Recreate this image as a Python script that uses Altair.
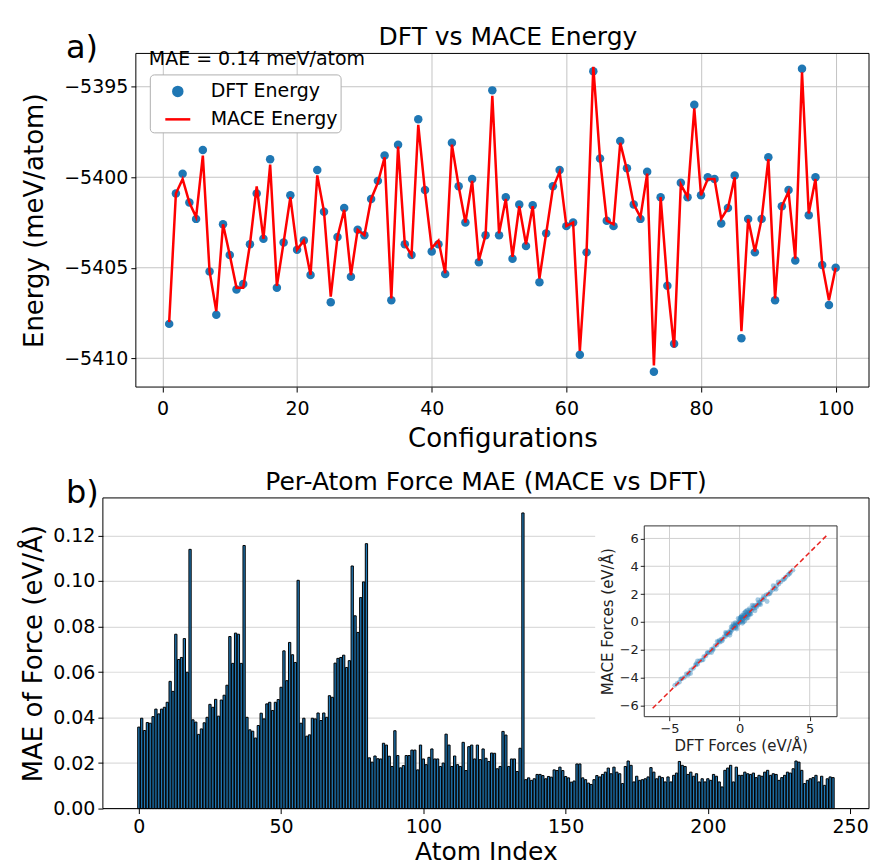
import altair as alt
import pandas as pd

FONT = "DejaVu Sans"

# ---------------- data: panel a ----------------
configurations = list(range(1, 101))
dft_energy = [
    -5408.1, -5400.9, -5399.8, -5401.4, -5402.3, -5398.5, -5405.2, -5407.6, -5402.6, -5404.3,
    -5406.2, -5405.9, -5403.7, -5400.9, -5403.4, -5399.0, -5406.1, -5403.6, -5401.0, -5404.0,
    -5403.5, -5405.4, -5399.6, -5401.9, -5406.9, -5403.3, -5401.7, -5405.5, -5402.9, -5403.2,
    -5401.2, -5400.2, -5398.8, -5406.8, -5398.2, -5403.7, -5404.3, -5396.8, -5400.7, -5404.1,
    -5403.7, -5405.35, -5398.1, -5400.5, -5402.5, -5400.1, -5404.7, -5403.2, -5395.2, -5403.2,
    -5401.1, -5404.5, -5401.5, -5403.8, -5401.55, -5405.8, -5403.1, -5400.5, -5399.6, -5402.7,
    -5402.5, -5409.8, -5404.15, -5394.15, -5398.96, -5402.4, -5402.7, -5398.0, -5399.5, -5401.5,
    -5402.3, -5399.7, -5410.75, -5401.1, -5406.0, -5409.2, -5400.3, -5401.1, -5396.0, -5401.0,
    -5400.0, -5400.1, -5402.55, -5401.7, -5399.9, -5408.9, -5402.3, -5404.15, -5402.3, -5398.9,
    -5406.8, -5401.6, -5400.7, -5404.6, -5394.0, -5402.1, -5400.0, -5404.85, -5407.06, -5405.0,
]
mace_energy = [
    -5408.0, -5400.9, -5400.1, -5401.4, -5402.2, -5398.8, -5405.2, -5407.4, -5402.6, -5404.3,
    -5406.1, -5406.1, -5403.7, -5400.5, -5403.4, -5399.3, -5406.0, -5403.6, -5401.1, -5404.0,
    -5403.5, -5405.4, -5399.9, -5401.9, -5406.6, -5403.3, -5401.8, -5405.4, -5402.9, -5403.2,
    -5401.2, -5400.3, -5398.9, -5406.7, -5398.3, -5403.7, -5404.3, -5397.1, -5400.8, -5403.9,
    -5403.5, -5405.3, -5398.2, -5400.5, -5402.5, -5400.2, -5404.6, -5403.2, -5395.5, -5403.1,
    -5401.2, -5404.4, -5401.6, -5403.7, -5401.6, -5405.6, -5403.1, -5400.6, -5399.7, -5402.7,
    -5402.5, -5409.6, -5404.1, -5393.9, -5399.0, -5402.4, -5402.6, -5398.1, -5399.6, -5401.5,
    -5402.2, -5399.8, -5410.4, -5401.1, -5405.9, -5409.4, -5400.4, -5401.1, -5396.2, -5401.0,
    -5400.1, -5400.1, -5402.3, -5401.7, -5400.0, -5408.5, -5402.3, -5404.1, -5402.3, -5399.0,
    -5406.7, -5401.6, -5400.8, -5404.5, -5394.2, -5402.0, -5400.1, -5404.8, -5406.8, -5405.0,
]
series_labels = ["DFT Energy", "MACE Energy"]
energy_ticks = [-5410, -5405, -5400, -5395]
config_ticks = [0, 20, 40, 60, 80, 100]
mae_label = ["MAE = 0.14 meV/atom"]
panel_labels = ["a)", "b)"]

# ---------------- data: panel b ----------------
force_mae_a = [
    0.0358, 0.0397, 0.0343, 0.0378, 0.0375, 0.0404, 0.0437, 0.0416, 0.0437, 0.0445,
    0.0467, 0.0559, 0.0515, 0.0766, 0.0655, 0.0664, 0.0747, 0.0599, 0.1139, 0.0390,
    0.0380, 0.0326, 0.0350, 0.0377, 0.0401, 0.0458, 0.0445, 0.0480, 0.0406, 0.0477,
    0.0498, 0.0542, 0.0756, 0.0638, 0.0771, 0.0766, 0.0638, 0.1156, 0.0401, 0.0346,
    0.0340, 0.0310, 0.0365,
]
force_mae_b = [
    0.0419, 0.0394, 0.0460, 0.0467, 0.0431, 0.0467, 0.0479, 0.0533, 0.0693, 0.0562,
    0.0730, 0.0676, 0.0642, 0.1003, 0.0375, 0.0397, 0.0318, 0.0324, 0.0397, 0.0394,
    0.0420, 0.0387, 0.0420, 0.0401, 0.0496, 0.0489, 0.0639, 0.0660, 0.0664, 0.0674,
    0.0620, 0.0650, 0.1066, 0.0847, 0.0774, 0.0927, 0.0996, 0.1164, 0.0223, 0.0204,
    0.0231, 0.0219,
]
force_mae_c = [
    0.0218, 0.0287, 0.0279, 0.0230, 0.0185, 0.0342, 0.0233, 0.0179, 0.0189, 0.0233,
    0.0233, 0.0257, 0.0257, 0.0170, 0.0279, 0.0218, 0.0193, 0.0225, 0.0262, 0.0218,
    0.0218, 0.0185, 0.0200, 0.0327, 0.0279, 0.0185, 0.0231, 0.0193, 0.0185, 0.0291,
    0.0167, 0.0272, 0.0279, 0.0218, 0.0279, 0.0215, 0.0262, 0.0221, 0.0207, 0.0244,
    0.0243, 0.0175, 0.0185, 0.0339, 0.0323, 0.0185, 0.0218, 0.0218, 0.0163, 0.0265,
    0.1299, 0.0127, 0.0135, 0.0124, 0.0131, 0.0150, 0.0150, 0.0145, 0.0131, 0.0141,
    0.0138, 0.0170, 0.0167, 0.0182, 0.0167, 0.0141, 0.0135, 0.0116, 0.0121, 0.0196,
    0.0196, 0.0135, 0.0127, 0.0112, 0.0106, 0.0127, 0.0145, 0.0139, 0.0150,
]
force_mae_d = [
    0.0160, 0.0178, 0.0153, 0.0182, 0.0160, 0.0153, 0.0110, 0.0185, 0.0209, 0.0190,
    0.0117, 0.0142, 0.0124, 0.0127, 0.0131, 0.0139, 0.0180, 0.0160, 0.0131, 0.0142,
    0.0136, 0.0117, 0.0139, 0.0117, 0.0146, 0.0156, 0.0207, 0.0190, 0.0185, 0.0150,
    0.0160, 0.0142, 0.0153, 0.0117, 0.0131, 0.0117, 0.0131, 0.0124, 0.0150, 0.0142,
    0.0117, 0.0095, 0.0168, 0.0178, 0.0190, 0.0117, 0.0182, 0.0146, 0.0146, 0.0160,
    0.0153, 0.0150, 0.0156, 0.0136, 0.0146, 0.0142, 0.0160, 0.0168, 0.0146, 0.0153,
    0.0150, 0.0124, 0.0136, 0.0146, 0.0160, 0.0156, 0.0175, 0.0209, 0.0204, 0.0168,
    0.0110, 0.0124, 0.0131, 0.0136, 0.0146, 0.0117, 0.0142, 0.0102, 0.0131, 0.0139,
    0.0136,
]
force_mae = force_mae_a + force_mae_b + force_mae_c + force_mae_d
atom_index = list(range(len(force_mae)))
mae_ticks = [0.0, 0.02, 0.04, 0.06, 0.08, 0.10, 0.12]
atom_ticks = [0, 50, 100, 150, 200, 250]

# inset: DFT vs MACE forces
inset_dft = [
    -4.62, -4.45, -4.3, -4.12, -3.95, -3.8, -3.62, -3.48, -3.3, -3.15,
    -3.0, -2.85, -2.7, -2.55, -2.4, -2.28, -2.15, -2.0, -1.88, -1.75,
    -1.62, -1.5, -1.4, -1.3, -1.2, -1.1, -1.0, -0.92, -0.85, -0.78,
    -0.7, -0.62, -0.55, -0.48, -0.4, -0.33, -0.26, -0.2, -0.14, -0.08,
    -0.02, 0.04, 0.1, 0.16, 0.22, 0.28, 0.34, 0.4, 0.46, 0.52,
    0.58, 0.64, 0.7, 0.78, 0.86, 0.95, 1.05, 1.15, 1.25, 1.35,
    1.45, 1.55, 1.66, 1.78, 1.9, 1.96, 2.05, 2.2, 2.35, 2.5,
    2.65, 2.8, 2.95, 3.1, 3.28, 3.45, 3.62, 3.8, 0.3, 0.5,
    -0.3, 0.1, 0.7, -0.6, 0.25, 0.45, 0.15, 0.35, -0.1, 0.55,
    0.6, -0.45, -0.2, 0.8, 0.9, 1.1, -0.7, -1.0, 0.2, 0.05,
    1.5, 1.3, 2.4, 2.6, -2.0, -1.6, -3.0, -3.5, -4.2, -3.7,
    -3.1, -2.6, -2.3, -1.9, -1.45, -1.25, -0.95, -0.65, -0.35, 0.0,
    0.3, 0.65, 1.0, 1.4, 1.7, 2.15, 2.75, 3.2, 3.55, 0.4,
    -0.25, 0.75, 0.12, -0.5, 1.2,
]
inset_mace = [
    -4.55, -4.41, -4.32, -4.08, -3.98, -3.74, -3.66, -3.44, -3.33, -3.1,
    -3.04, -2.8, -2.74, -2.5, -2.43, -2.22, -2.18, -1.95, -1.92, -1.7,
    -1.66, -1.44, -1.45, -1.24, -1.25, -1.05, -1.04, -0.86, -0.9, -0.72,
    -0.75, -0.56, -0.6, -0.42, -0.45, -0.27, -0.31, -0.13, -0.2, -0.02,
    -0.08, 0.11, 0.04, 0.23, 0.16, 0.35, 0.28, 0.47, 0.4, 0.58,
    0.52, 0.71, 0.64, 0.84, 0.8, 1.01, 0.99, 1.21, 1.19, 1.4,
    1.39, 1.6, 1.6, 1.72, 1.95, 1.47, 2.0, 2.14, 2.3, 2.43,
    2.6, 2.73, 2.89, 3.03, 3.21, 3.37, 3.55, 3.72, 0.62, 0.25,
    -0.05, 0.35, 0.95, -0.35, 0.0, 0.75, 0.45, 0.05, 0.25, 0.85,
    0.3, -0.15, -0.5, 0.55, 1.2, 0.8, -0.95, -0.75, -0.1, 0.3,
    1.25, 1.6, 2.6, 2.35, -2.2, -1.4, -2.8, -3.7, -4.1, -3.82,
    -3.0, -2.72, -2.2, -2.02, -1.33, -1.37, -0.83, -0.77, -0.23, 0.18,
    0.48, 0.5, 1.15, 1.27, 1.82, 2.03, 2.87, 3.08, 3.45, 0.72,
    -0.42, 0.58, 0.38, -0.28, 1.05,
]
inset_xticks = [-5, 0, 5]
inset_yticks = [-6, -4, -2, 0, 2, 4, 6]
diag_limits = [-6.2, 6.3]

# ---------------- layout / style ----------------
W = 767
H1 = 334
H2 = 311
TOP_X = [-3.95, 104.95]
TOP_Y = [-5411.59, -5393.16]
BOT_X = [-12.64, 256.64]
BOT_Y = [0.0, 0.1365]
IN_X = [-6.8, 6.95]
IN_Y = [-6.8, 6.9]
IN_BG_X = [-10.3, 7.14]
IN_BG_Y = [-9.8, 7.6]

GRID_TOP = "#c4c4c4"
GRID_BOT = "#dcdcdc"
BLUE = "#1f77b4"
RED = "#ff0000"

x_top = alt.Scale(domain=TOP_X, range=[33, W], nice=False, zero=False)
y_top = alt.Scale(domain=TOP_Y, nice=False, zero=False)
color_scale = alt.Scale(domain=series_labels, range=[BLUE, RED])

main_axis = dict(labelFont=FONT, titleFont=FONT, labelFontSize=19,
                 labelColor="black", titleColor="black", titleFontWeight="normal",
                 tickColor="black", tickSize=5, tickWidth=1, domain=False)

ax_top_x = alt.Axis(values=config_ticks, title="Configurations", grid=True, gridColor=GRID_TOP,
                    gridWidth=1, labelPadding=7, titlePadding=8, titleFontSize=26, **main_axis)
ax_top_y = alt.Axis(values=energy_ticks, title="Energy (meV/atom)", grid=False, offset=-33,
                    format="d", labelPadding=3, titlePadding=16, titleFontSize=26, **main_axis)

energy_df = pd.DataFrame({
    "config": configurations, "DFT": dft_energy, "MACE": mace_energy,
    "s_dft": series_labels[0], "s_mace": series_labels[1],
})

legend = alt.Legend(
    title=None, orient="none", legendX=47, legendY=21, direction="vertical",
    symbolType={"expr": "datum.value == 'MACE Energy' ? 'stroke' : 'M-0.36,0A0.36,0.36,0,1,0,0.36,0A0.36,0.36,0,1,0,-0.36,0Z'"},
    symbolSize=625, symbolStrokeWidth=2.5, symbolOffset=11,
    symbolFillColor={"expr": "datum.value == 'MACE Energy' ? 'transparent' : '#1f77b4'"},
    symbolStrokeColor={"expr": "datum.value == 'MACE Energy' ? '#ff0000' : 'transparent'"},
    labelFontSize=19, labelFont=FONT, labelColor="black", labelOffset=19,
    fillColor="white", strokeColor="#b0b0b0", cornerRadius=4, padding=3,
    rowPadding=4, symbolOpacity=1,
)

top_grid = alt.Chart(pd.DataFrame({"e": energy_ticks, "x0": TOP_X[0], "x1": TOP_X[1]})).mark_rule(
    color=GRID_TOP, strokeWidth=1
).encode(
    y=alt.Y("e:Q", scale=y_top, axis=ax_top_y),
    x=alt.X("x0:Q", scale=x_top, axis=ax_top_x), x2="x1:Q",
)

top_points = alt.Chart(energy_df).mark_circle(size=72, opacity=1).encode(
    x=alt.X("config:Q", scale=x_top, axis=ax_top_x),
    y=alt.Y("DFT:Q", scale=y_top, axis=ax_top_y),
    color=alt.Color("s_dft:N", scale=color_scale, legend=legend),
)

top_line = alt.Chart(energy_df).mark_line(strokeWidth=2.5).encode(
    x=alt.X("config:Q", scale=x_top, axis=ax_top_x),
    y=alt.Y("MACE:Q", scale=y_top, axis=ax_top_y),
    color=alt.Color("s_mace:N", scale=color_scale, legend=legend),
)

top_frame = alt.Chart(pd.DataFrame({"x0": [TOP_X[0]], "x1": [TOP_X[1]], "y0": [TOP_Y[0]], "y1": [TOP_Y[1]]})).mark_rect(
    fillOpacity=0, stroke="black", strokeWidth=1
).encode(
    x=alt.X("x0:Q", scale=x_top, axis=ax_top_x), x2="x1:Q",
    y=alt.Y("y0:Q", scale=y_top, axis=ax_top_y), y2="y1:Q",
)

mae_text = alt.Chart(pd.DataFrame({"t": mae_label})).mark_text(
    align="left", baseline="middle", font=FONT, fontSize=19, color="black"
).encode(text="t:N", x=alt.value(46), y=alt.value(6))

a_text = alt.Chart(pd.DataFrame({"t": [panel_labels[0]]})).mark_text(
    align="left", baseline="middle", font=FONT, fontSize=32, color="black"
).encode(text="t:N", x=alt.value(-37), y=alt.value(-5))

top = alt.layer(top_grid, top_points, top_line, top_frame, mae_text, a_text).properties(
    width=W, height=H1,
    title=alt.TitleParams("DFT vs MACE Energy", font=FONT, fontSize=25, fontWeight="normal",
                          color="black", frame="group", dx=22, dy=25, offset=7),
)

# ---------------- bottom panel ----------------
x_bot = alt.Scale(domain=BOT_X, nice=False, zero=False)
y_bot = alt.Scale(domain=BOT_Y, nice=False, zero=False)

ax_bot_x = alt.Axis(values=atom_ticks, title="Atom Index", grid=False, labelPadding=4,
                    titlePadding=3, titleFontSize=25, **main_axis)
ax_bot_y = alt.Axis(values=mae_ticks, format=".2f", title="MAE of Force (eV/Å)", grid=True,
                    gridColor=GRID_BOT, gridWidth=1.2, labelPadding=3, titlePadding=6,
                    titleFontSize=26, **main_axis)

bar_df = pd.DataFrame({"atom": atom_index, "mae": force_mae})
bars = alt.Chart(bar_df).transform_calculate(
    a0="datum.atom - 0.4", a1="datum.atom + 0.4"
).mark_bar(color=BLUE, stroke="black", strokeWidth=1.0).encode(
    x=alt.X("a0:Q", scale=x_bot, axis=ax_bot_x),
    x2="a1:Q",
    y=alt.Y("mae:Q", scale=y_bot, axis=ax_bot_y),
    y2=alt.datum(0),
)

bot_frame = alt.Chart(pd.DataFrame({"x0": [BOT_X[0]], "x1": [BOT_X[1]], "y0": [BOT_Y[0]], "y1": [BOT_Y[1]]})).mark_rect(
    fillOpacity=0, stroke="black", strokeWidth=1
).encode(
    x=alt.X("x0:Q", scale=x_bot, axis=ax_bot_x), x2="x1:Q",
    y=alt.Y("y0:Q", scale=y_bot, axis=ax_bot_y), y2="y1:Q",
)

b_text = alt.Chart(pd.DataFrame({"t": [panel_labels[1]]})).mark_text(
    align="left", baseline="middle", font=FONT, fontSize=32, color="black"
).encode(text="t:N", x=alt.value(-37), y=alt.value(-5))

main_bottom = alt.layer(bars, bot_frame, b_text)

# inset scales (own pixel range inside the bottom panel)
x_in = alt.Scale(domain=IN_X, range=[542, 735], nice=False, zero=False)
y_in = alt.Scale(domain=IN_Y, range=[219, 28], nice=False, zero=False)

inset_axis = dict(labelFont=FONT, titleFont=FONT, labelFontSize=13, titleFontSize=15,
                  labelColor="#222222", titleColor="#222222", titleFontWeight="normal",
                  tickColor="#222222", tickSize=4, domain=False, grid=False, zindex=1, format="d")
ax_in_x = alt.Axis(orient="bottom", offset=-92, values=inset_xticks, title="DFT Forces (eV/Å)",
                   labelPadding=2, titlePadding=3, **inset_axis)
ax_in_y = alt.Axis(orient="left", offset=-542, values=inset_yticks, title="MACE Forces (eV/Å)",
                   labelPadding=2, titlePadding=4, **inset_axis)

inset_bg = alt.Chart(pd.DataFrame({"x0": [IN_BG_X[0]], "x1": [IN_BG_X[1]], "y0": [IN_BG_Y[0]], "y1": [IN_BG_Y[1]]})).mark_rect(
    color="white"
).encode(
    x=alt.X("x0:Q", scale=x_in, axis=ax_in_x), x2="x1:Q",
    y=alt.Y("y0:Q", scale=y_in, axis=ax_in_y), y2="y1:Q",
)

inset_vgrid = alt.Chart(pd.DataFrame({"v": inset_xticks, "y0": IN_Y[0], "y1": IN_Y[1]})).mark_rule(
    color="#d0d0d0", strokeWidth=1
).encode(
    x=alt.X("v:Q", scale=x_in, axis=ax_in_x),
    y=alt.Y("y0:Q", scale=y_in, axis=ax_in_y), y2="y1:Q",
)

inset_hgrid = alt.Chart(pd.DataFrame({"v": inset_yticks, "x0": IN_X[0], "x1": IN_X[1]})).mark_rule(
    color="#d0d0d0", strokeWidth=1
).encode(
    y=alt.Y("v:Q", scale=y_in, axis=ax_in_y),
    x=alt.X("x0:Q", scale=x_in, axis=ax_in_x), x2="x1:Q",
)

inset_pts = alt.Chart(pd.DataFrame({"dft": inset_dft, "mace": inset_mace})).mark_circle(
    size=24, opacity=0.4, color=BLUE
).encode(
    x=alt.X("dft:Q", scale=x_in, axis=ax_in_x),
    y=alt.Y("mace:Q", scale=y_in, axis=ax_in_y),
)

inset_diag = alt.Chart(pd.DataFrame({"d": diag_limits})).mark_line(
    color="#e8221f", strokeWidth=1.5, strokeDash=[5, 3]
).encode(
    x=alt.X("d:Q", scale=x_in, axis=ax_in_x),
    y=alt.Y("d:Q", scale=y_in, axis=ax_in_y),
)

inset_frame = alt.Chart(pd.DataFrame({"x0": [IN_X[0]], "x1": [IN_X[1]], "y0": [IN_Y[0]], "y1": [IN_Y[1]]})).mark_rect(
    fillOpacity=0, stroke="#333333", strokeWidth=1
).encode(
    x=alt.X("x0:Q", scale=x_in, axis=ax_in_x), x2="x1:Q",
    y=alt.Y("y0:Q", scale=y_in, axis=ax_in_y), y2="y1:Q",
)

inset = alt.layer(inset_bg, inset_vgrid, inset_hgrid, inset_pts, inset_diag, inset_frame)

bottom = alt.layer(main_bottom, inset).resolve_scale(
    x="independent", y="independent"
).properties(
    width=W, height=H2,
    title=alt.TitleParams("Per-Atom Force MAE (MACE vs DFT)", font=FONT, fontSize=25,
                          fontWeight="normal", color="black", frame="group", dy=25, offset=7),
)

chart = alt.vconcat(top, bottom, spacing=18).resolve_scale(color="independent").properties(
    padding={"left": 20, "top": 25, "right": 0, "bottom": 0}
).configure(font=FONT).configure_view(stroke=None)

chart.save("out.html", embed_options={"renderer": "svg", "actions": False})
